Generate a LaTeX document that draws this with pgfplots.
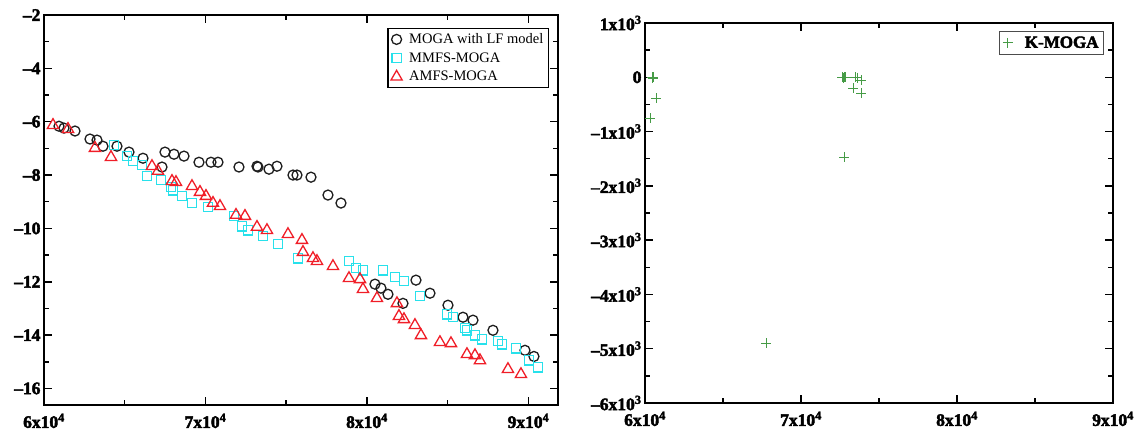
\documentclass[border=0pt]{standalone}
\usepackage{fontspec}
\setmainfont{Liberation Serif}
\newfontfamily\tickfont{Liberation Serif Bold}[Ligatures=TeX,FakeBold=2.5]
\usepackage{pgfplots}
\pgfplotsset{compat=1.18}
\definecolor{mcyan}{RGB}{40,225,235}
\definecolor{mred}{RGB}{240,30,40}
\definecolor{mgreen}{RGB}{70,155,70}
\definecolor{mblack}{RGB}{30,30,30}
\newcommand{\xl}[1]{#1x10\textsuperscript{4}}
\newcommand{\yl}[1]{#1x10\textsuperscript{3}}
\begin{document}
\begin{tikzpicture}[x=1pt,y=1pt]
\useasboundingbox (0,0) rectangle (1142,438);
\pgfplotsset{
 myaxis/.style={
  scale only axis,
  axis line style={line width=2pt},
  tick align=inside,
  xtick pos=both, ytick pos=both,
  major tick length=8pt, minor tick length=5pt,
  tick style={line width=1.5pt,black},
  tick label style={font=\fontsize{17.5}{20}\tickfont},
  xticklabel style={yshift=-5pt},
  scaled x ticks=false, scaled y ticks=false,
  minor x tick num=1, minor y tick num=1,
  legend cell align=left,
 }
}
% ---------------- left panel ----------------
\begin{axis}[myaxis,
  at={(44pt,33pt)}, anchor=south west,
  width=514pt, height=390pt,
  xmin=60000, xmax=91830, ymin=-16.62, ymax=-2,
  xtick={60000,70000,80000,90000},
  xticklabels={\xl{6},\xl{7},\xl{8},\xl{9}},
  ytick={-16,-14,-12,-10,-8,-6,-4,-2},
  yticklabels={\textendash16,\textendash14,\textendash12,\textendash10,\textendash8,\textendash6,\textendash4,\textendash2},
  legend style={at={(0.9825,0.9667)}, anchor=north east, draw=black, line width=1.3pt,
    font=\fontsize{14.5}{17}\selectfont, inner sep=3pt, row sep=3.5pt,
    /tikz/every odd column/.append style={column sep=5pt}},
]
\addplot[only marks, mark=o, mark size=5pt, mblack, mark options={line width=1.3pt}] table {
60929 -6.17
61238 -6.24
61920 -6.35
62848 -6.65
63282 -6.69
63653 -6.92
64520 -6.92
65263 -7.14
66130 -7.37
67307 -7.70
67492 -7.14
68050 -7.22
68669 -7.29
69598 -7.52
70341 -7.52
70774 -7.52
72074 -7.70
73189 -7.67
73251 -7.70
73932 -7.78
74427 -7.67
75418 -8.00
75666 -8.00
76533 -8.08
77585 -8.75
78390 -9.05
80496 -12.09
80867 -12.24
81300 -12.47
82229 -12.81
83034 -11.94
83901 -12.43
85016 -12.88
85945 -13.33
86564 -13.44
87802 -13.82
89784 -14.57
90341 -14.80
};
\addlegendentry{MOGA with LF model}
\addplot[only marks, mark=square, mark size=4.6pt, mcyan, mark options={line width=1.3pt}] table {
64334 -6.88
65139 -7.29
65511 -7.48
66068 -7.63
66378 -8.04
67245 -8.19
67864 -8.45
67988 -8.57
68545 -8.79
69164 -9.05
70155 -9.20
71765 -9.54
72260 -9.92
72632 -10.07
73561 -10.29
74489 -10.59
75728 -11.12
78886 -11.23
79319 -11.49
79752 -11.57
80991 -11.57
81734 -11.83
82291 -11.98
83282 -12.54
84954 -13.22
85326 -13.33
86069 -13.74
86192 -13.82
86688 -14.01
87121 -14.16
88112 -14.23
88360 -14.35
89227 -14.50
90032 -14.95
90589 -15.21
};
\addlegendentry{MMFS-MOGA}
\addplot[only marks, mark=triangle, mark size=6.5pt, mred, mark options={line width=1.3pt}] table {
60557 -6.13
61486 -6.28
63158 -6.99
64149 -7.33
66687 -7.67
67059 -7.85
67926 -8.23
68173 -8.27
69164 -8.42
69660 -8.64
70031 -8.79
70464 -9.05
70898 -9.17
71889 -9.50
72446 -9.54
73189 -9.95
73808 -10.07
75108 -10.22
75975 -10.44
76037 -10.89
76656 -11.12
76904 -11.23
77895 -11.42
78886 -11.87
79567 -11.91
79752 -12.28
80619 -12.62
81857 -12.81
81981 -13.29
82291 -13.41
82972 -13.63
83344 -14.01
84520 -14.27
85201 -14.31
86192 -14.72
86688 -14.76
86998 -14.95
88731 -15.28
89536 -15.47
};
\addlegendentry{AMFS-MOGA}
\end{axis}
% ---------------- right panel ----------------
\begin{axis}[myaxis,
  at={(645pt,35pt)}, anchor=south west,
  width=468pt, height=380pt,
  xmin=60000, xmax=90000, ymin=-6000, ymax=1000,
  xtick={60000,70000,80000,90000},
  xticklabels={\xl{6},\xl{7},\xl{8},\xl{9}},
  ytick={-6000,-5000,-4000,-3000,-2000,-1000,0,1000},
  yticklabels={\yl{\textendash6},\yl{\textendash5},\yl{\textendash4},\yl{\textendash3},\yl{\textendash2},\yl{\textendash1},0,\yl{1}},
  legend style={at={(0.9808,0.9789)}, anchor=north east, draw=black!70, line width=1pt,
    font=\fontsize{17}{20}\tickfont, inner sep=3pt,
    /tikz/every odd column/.append style={column sep=10pt}},
]
\addplot[only marks, mark=+, mark size=5pt, mgreen, mark options={line width=1pt}] table {
60480 0
60500 -10
60530 5
60510 -20
60705 -387
60320 -755
72650 0
72700 -5
72760 0
72820 0
73461 0
73589 -5
73846 -55
73333 -203
73846 -295
72756 -1473
67756 -4899
};
\addlegendentry{K-MOGA}
\end{axis}
\end{tikzpicture}
\end{document}
